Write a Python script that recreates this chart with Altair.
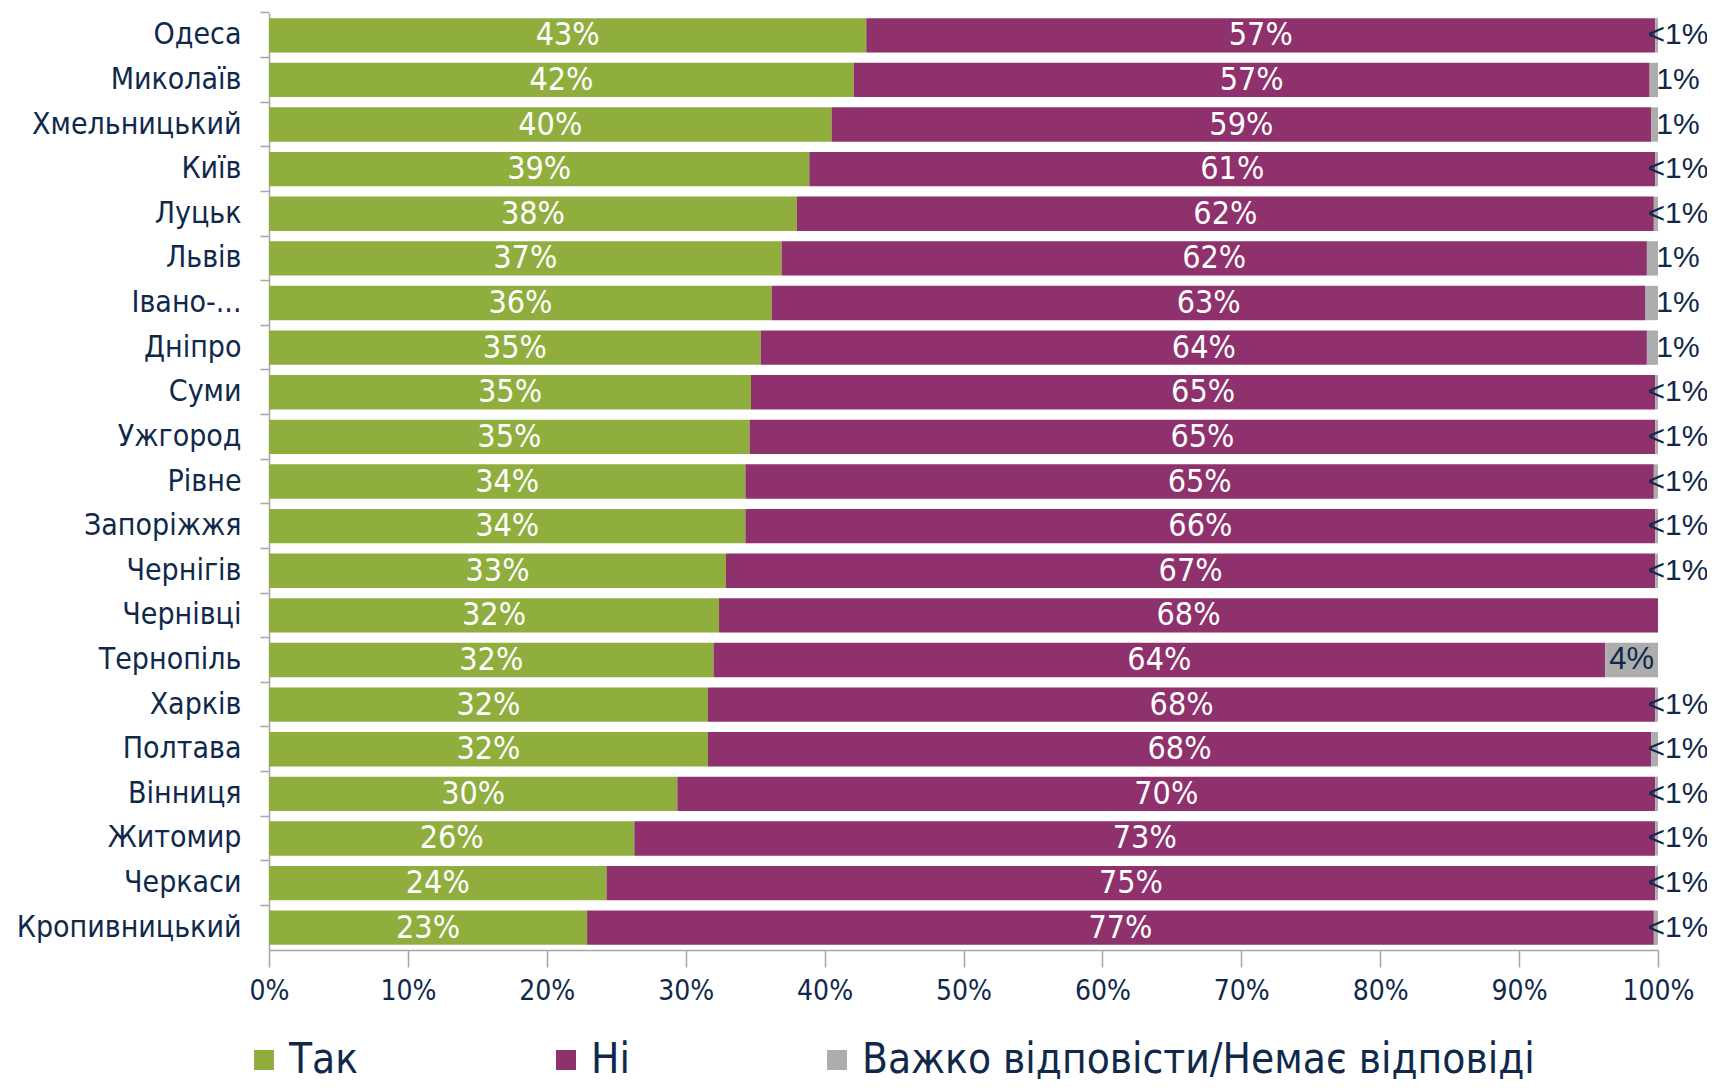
import altair as alt
import pandas as pd

cities = ["Одеса", "Миколаїв", "Хмельницький", "Київ", "Луцьк", "Львів", "Івано-...",
          "Дніпро", "Суми", "Ужгород", "Рівне", "Запоріжжя", "Чернігів", "Чернівці",
          "Тернопіль", "Харків", "Полтава", "Вінниця", "Житомир", "Черкаси", "Кропивницький"]
answers = ["Так", "Ні", "Важко відповісти/Немає відповіді"]

tak = [43.0, 42.1, 40.5, 38.9, 38.0, 36.9, 36.2, 35.4, 34.7, 34.6, 34.3, 34.3, 32.9, 32.4,
       32.0, 31.6, 31.6, 29.4, 26.3, 24.3, 22.9]
ni = [56.8, 57.3, 59.0, 60.9, 61.7, 62.3, 62.9, 63.8, 65.1, 65.2, 65.4, 65.5, 66.9, 67.6,
      64.2, 68.2, 67.9, 70.4, 73.5, 75.5, 76.8]
na = [0.2, 0.6, 0.5, 0.2, 0.3, 0.8, 0.9, 0.8, 0.2, 0.2, 0.3, 0.2, 0.2, 0.0,
      3.8, 0.2, 0.5, 0.2, 0.2, 0.2, 0.3]

tak_lbl = ["43%", "42%", "40%", "39%", "38%", "37%", "36%", "35%", "35%", "35%", "34%", "34%",
           "33%", "32%", "32%", "32%", "32%", "30%", "26%", "24%", "23%"]
ni_lbl = ["57%", "57%", "59%", "61%", "62%", "62%", "63%", "64%", "65%", "65%", "65%", "66%",
          "67%", "68%", "64%", "68%", "68%", "70%", "73%", "75%", "77%"]
na_lbl = ["<1%", "1%", "1%", "<1%", "<1%", "1%", "1%", "1%", "<1%", "<1%", "<1%", "<1%",
          "<1%", "", "4%", "<1%", "<1%", "<1%", "<1%", "<1%", "<1%"]

colors = ["#8FAE3E", "#8E316C", "#ADADAD"]
NAVY = "#10294B"
FONT = "DejaVu Sans Condensed, Liberation Sans Narrow, DejaVu Sans"
FONT2 = "Liberation Sans, Arial"

rows = []
for i, c in enumerate(cities):
    for k, (vals, lbls) in enumerate([(tak, tak_lbl), (ni, ni_lbl), (na, na_lbl)]):
        rows.append({"city": c, "answer": answers[k], "order": k,
                     "value": vals[i], "label": lbls[i]})
df = pd.DataFrame(rows)

base = alt.Chart(df).transform_stack(
    stack="value", as_=["x0", "x1"], groupby=["city"],
    sort=[alt.SortField("order", order="ascending")]
).transform_calculate(mid="(datum.x0 + datum.x1) / 2")

yenc = alt.Y("city:N", sort=cities,
             scale=alt.Scale(paddingInner=0.23, paddingOuter=0.115),
             axis=alt.Axis(title=None, labelFontSize=30, labelColor=NAVY, labelFont=FONT,
                           tickColor="#A6A6A6", tickSize=9, tickWidth=1.5,
                           domainColor="#A6A6A6", domainWidth=1.5, labelPadding=19,
                           bandPosition=-0.15, labelLimit=400, grid=False))

bars = base.mark_bar().encode(
    y=yenc,
    x=alt.X("x0:Q", scale=alt.Scale(domain=[0, 100], nice=False),
            axis=alt.Axis(title=None, values=list(range(0, 101, 10)),
                          labelExpr="datum.value + '%'", labelFontSize=28,
                          labelFont=FONT, labelColor=NAVY, tickSize=17, tickWidth=1.5,
                          tickColor="#A6A6A6", domainColor="#A6A6A6", domainWidth=1.5,
                          labelPadding=10, labelFlush=False, grid=False)),
    x2="x1:Q",
    color=alt.Color("answer:N", sort=answers,
                    scale=alt.Scale(domain=answers, range=colors),
                    legend=alt.Legend(title=None, orient="none", legendX=-26, legendY=1026,
                                      direction="horizontal", columns=3, columnPadding=186,
                                      symbolType="square", symbolSize=400,
                                      symbolStrokeWidth=0, labelFontSize=42,
                                      labelFont=FONT, labelColor=NAVY, labelOffset=4,
                                      labelLimit=800)),
)

white_txt = base.transform_filter("datum.order < 2").mark_text(
    color="white", fontSize=32, font=FONT, baseline="middle", align="center"
).encode(y=alt.Y("city:N", sort=cities), x="mid:Q", text="label:N")

na_in = base.transform_filter("datum.order == 2 && datum.value >= 2").mark_text(
    color=NAVY, fontSize=31, font=FONT2, baseline="middle", align="center"
).encode(y=alt.Y("city:N", sort=cities), x="mid:Q", text="label:N")

na_out = base.transform_filter("datum.order == 2 && datum.value < 2 && datum.label != ''").mark_text(
    color=NAVY, fontSize=30, font=FONT2, baseline="middle", align="center", dx=20
).encode(y=alt.Y("city:N", sort=cities), x="x1:Q", text="label:N")

chart = alt.layer(bars, white_txt, na_in, na_out).properties(
    width=1389, height=937,
    autosize=alt.AutoSizeParams(type="none"),
    padding={"left": 261, "top": 5, "right": 49, "bottom": 133},
).configure_view(stroke=None)

chart.save("out.html", embed_options={"renderer": "svg", "actions": False})
